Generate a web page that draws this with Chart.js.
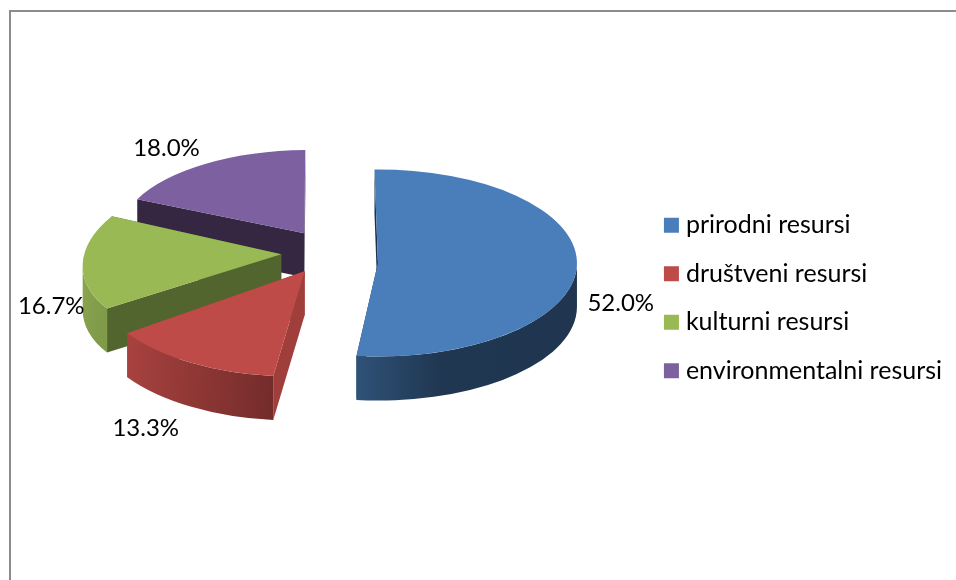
<!DOCTYPE html>
<html>
<head>
<meta charset="utf-8">
<script src="https://cdn.jsdelivr.net/npm/chart.js@4"></script>
<style>
html, body { margin: 0; background: #fff; overflow: hidden; }
#frame { position: absolute; left: 9px; top: 10px; width: 947px; height: 570px; border-left: 2px solid #8c8c8c; border-top: 2px solid #8c8c8c; }
canvas { position: absolute; left: 0; top: 0; }
</style>
</head>
<body>
<div id="frame"></div>
<canvas id="resursi" width="956" height="580"></canvas>
<script>
const categories = ["prirodni resursi", "društveni resursi", "kulturni resursi", "environmentalni resursi"]
const shares = [52.0, 13.3, 16.7, 18.0]

const topColors = ["#4a7ebb", "#be4b48", "#98b954", "#7d60a0"]
const radialWallColors = ["#1c3350", "#a03e3b", "#53652f", "#352741"]
const outerWallStops = [
    [[0, "#2f5278"], [0.38, "#203751"], [1, "#1f3550"]],
    [[0, "#a8423f"], [1, "#742c2b"]],
    [[0, "#8ba750"], [1, "#7f9a49"]],
    [[0, "#352741"], [1, "#352741"]]
]

// fake 3D: tilt, per slice perspective and explosion, all in screen pixels
const pieCenter = { x: 328.5, y: 252 }
const pieRadius = 199
const tilt = 0.47
const depth = 44
const explode = 47.5
const perspective = [1.0, 1.07, 0.99, 0.93]
const sliceTilt = [0.47, 0.495, 0.47, 0.45]
const lean = [0, -0.08, -0.27, -0.05]
const sliceNudge = [[2, 10], [0, 0], [0, 0], [2, 0]]
const labelNudge = [[46, 46], [-52, 70], [-34, 43], [-34, -12]]
const labelFont = "24px Lato"

function sliceTransform(ctx, arc, i) {
    const mid = (arc.startAngle + arc.endAngle) / 2
    const scale = pieRadius * perspective[i] / arc.outerRadius
    ctx.translate(
        pieCenter.x + Math.cos(mid) * explode + sliceNudge[i][0],
        pieCenter.y + Math.sin(mid) * explode * tilt + sliceNudge[i][1]
    )
    ctx.transform(1, 0, lean[i], 1, 0, 0)
    ctx.scale(scale, scale * sliceTilt[i])
    return { x: -lean[i] * depth / scale, y: depth / (scale * sliceTilt[i]) }
}

function drawWalls(ctx, arc, i) {
    const R = arc.outerRadius
    const down = sliceTransform(ctx, arc, i)
    const a = arc.startAngle, b = arc.endAngle

    ctx.fillStyle = radialWallColors[i]
    ;[a, b].forEach(angle => {
        const px = Math.cos(angle) * R, py = Math.sin(angle) * R
        ctx.beginPath()
        ctx.moveTo(0, 0)
        ctx.lineTo(px, py)
        ctx.lineTo(px + down.x, py + down.y)
        ctx.lineTo(down.x, down.y)
        ctx.closePath()
        ctx.fill()
    })

    // outer wall only where it faces the viewer, the lean moves that range a little
    const turn = Math.atan(lean[i] * sliceTilt[i])
    const from = Math.max(a, turn), to = Math.min(b, Math.PI + turn)
    if (to > from) {
        const x0 = Math.cos(to) * R, x1 = Math.cos(from) * R
        const grad = ctx.createLinearGradient(x0, 0, x1, 0)
        outerWallStops[i].forEach(s => grad.addColorStop(s[0], s[1]))
        ctx.fillStyle = grad
        ctx.beginPath()
        ctx.arc(0, 0, R, from, to)
        ctx.arc(down.x, down.y, R, to, from, true)
        ctx.closePath()
        ctx.fill()
    }
}

const pie3d = {
    id: "pie3d",
    beforeDatasetDraw(chart, args) {
        const ctx = chart.ctx
        const arcs = args.meta.data
        // back to front, the big front slices come last
        ;[3, 2, 0, 1].forEach(i => {
            const arc = arcs[i]
            ctx.save()
            drawWalls(ctx, arc, i)
            ctx.restore()

            ctx.save()
            sliceTransform(ctx, arc, i)
            ctx.translate(-arc.x, -arc.y)
            arc.draw(ctx)
            ctx.restore()
        })
        return false
    },
    afterDatasetsDraw(chart) {
        const ctx = chart.ctx
        const arcs = chart.getDatasetMeta(0).data
        ctx.save()
        ctx.font = labelFont
        ctx.fillStyle = "#000"
        ctx.textAlign = "center"
        ctx.textBaseline = "middle"
        arcs.forEach((arc, i) => {
            const mid = (arc.startAngle + arc.endAngle) / 2
            const reach = pieRadius * perspective[i] + explode
            const x = pieCenter.x + Math.cos(mid) * reach + labelNudge[i][0]
            const y = pieCenter.y + Math.sin(mid) * reach * tilt + labelNudge[i][1]
            ctx.fillText(shares[i].toFixed(1) + "%", x, y)
        })
        ctx.restore()
    }
}

new Chart(document.getElementById("resursi"), {
    type: "pie",
    data: {
        labels: categories,
        datasets: [{
            data: shares,
            backgroundColor: topColors,
            borderWidth: 0
        }]
    },
    options: {
        responsive: false,
        animation: false,
        rotation: -1,
        layout: { padding: { top: 16, right: 4 } },
        plugins: {
            tooltip: { enabled: false },
            legend: {
                position: "right",
                labels: {
                    usePointStyle: true,
                    pointStyle: "rect",
                    boxWidth: 4,
                    boxHeight: 15,
                    padding: 23.5,
                    color: "#000",
                    font: { family: "Lato", size: 25 }
                }
            }
        }
    },
    plugins: [pie3d]
})
</script>
</body>
</html>
